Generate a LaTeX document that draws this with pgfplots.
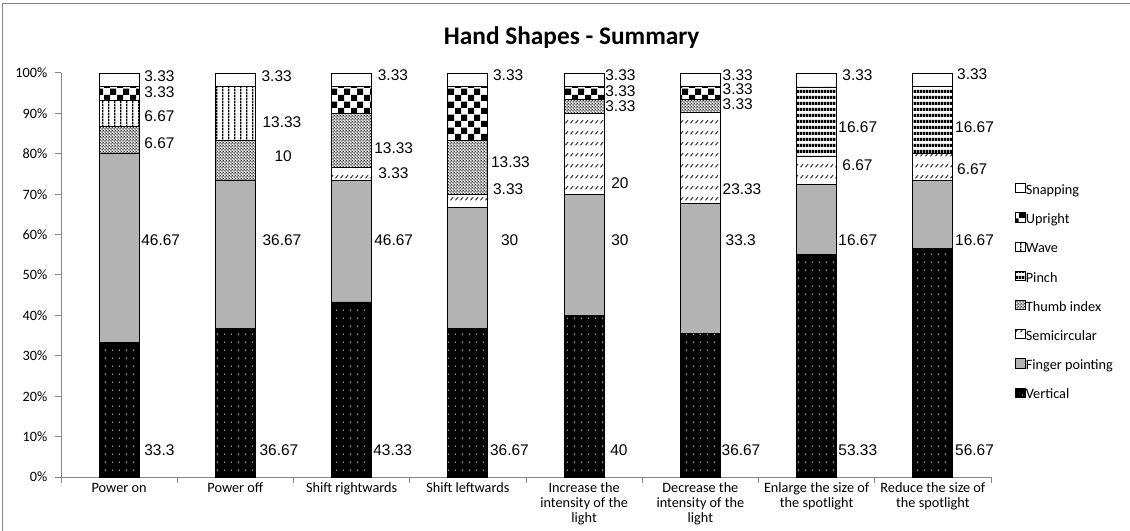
\documentclass[border=0pt]{standalone}
\usepackage{pgfplots}
\pgfplotsset{compat=1.18}
\usepackage{pgfplotstable}
\usetikzlibrary{patterns.meta}
\usepackage{fontspec}
\setmainfont{Carlito}
\newfontfamily\arialfont{Liberation Sans}

\definecolor{axisgray}{RGB}{134,134,134}
\definecolor{fingergray}{RGB}{179,179,179}

% fill patterns for the hand shapes
\tikzdeclarepattern{name=dotgrid, type=uncolored,
  bounding box={(0pt,0pt) and (5.5pt,6.2pt)}, tile size={(5.5pt,6.2pt)},
  code={\fill (2.75pt,3.1pt) circle (0.5pt);}}
\tikzdeclarepattern{name=bigchecker, type=uncolored,
  bounding box={(0pt,0pt) and (9.8pt,9.8pt)}, tile size={(9.8pt,9.8pt)},
  code={\fill (0pt,0pt) rectangle (4.9pt,4.9pt); \fill (4.9pt,4.9pt) rectangle (9.8pt,9.8pt);}}
\tikzdeclarepattern{name=hstripes, type=uncolored,
  bounding box={(0pt,0pt) and (2pt,4.5pt)}, tile size={(2pt,4.5pt)},
  code={\fill (0pt,0pt) rectangle (2pt,2.6pt);}}
\tikzdeclarepattern{name=vstripes, type=uncolored,
  bounding box={(0pt,0pt) and (4.5pt,2pt)}, tile size={(4.5pt,2pt)},
  code={\fill (0pt,0pt) rectangle (1.1pt,2pt);}}
\tikzdeclarepattern{name=finemesh, type=uncolored,
  bounding box={(0pt,0pt) and (2.4pt,2.4pt)}, tile size={(2.4pt,2.4pt)},
  code={\draw[line width=0.25pt] (0pt,0pt)--(2.4pt,2.4pt) (0pt,2.4pt)--(2.4pt,0pt);}}
\tikzdeclarepattern{name=slashes, type=uncolored,
  bounding box={(0pt,0pt) and (3.4pt,8.25pt)}, tile size={(3.4pt,8.25pt)},
  code={\draw[line width=0.6pt] (0.4pt,0.6pt)--(2.6pt,3.2pt);}}

% counts per gesture (percent of participants)
% V vertical, F finger pointing, S semicircular, T thumb index,
% P pinch, W wave, U upright, N snapping
\pgfplotstableread{
idx V     F     S     T     P     W     U     N
0   33.3  46.67 0     6.67  0     6.67  3.33  3.33
1   36.67 36.67 0     10    0     13.33 0     3.33
2   43.33 30    3.33  13.33 0     0     6.67  3.33
3   36.67 30    3.33  13.33 0     0     13.33 3.33
4   40    30    20    3.33  0     0     3.33  3.33
5   36.67 33.3  23.33 3.33  0     0     3.33  3.33
6   53.33 16.67 6.67  0     16.67 0     0     3.33
7   56.67 16.67 6.67  0     16.67 0     0     3.33
}\handdata
\pgfplotstablecreatecol[expr={\thisrow{V}+\thisrow{F}+\thisrow{S}+\thisrow{T}+\thisrow{P}+\thisrow{W}+\thisrow{U}+\thisrow{N}}]{Tot}\handdata

\newcommand{\vlab}[4]{\node[anchor=west, inner sep=0pt, font=\arialfont\fontsize{11.6}{13}\selectfont]
  at (axis cs:#1,#2) [xshift=#3*0.75pt] {#4};}

\begin{document}
\begin{tikzpicture}
\useasboundingbox (-45.75pt,-40.5pt) rectangle (801.75pt,357.75pt);
\draw[axisgray, line width=0.75pt] (-43.5pt,-50pt) -- (-43.5pt,354.75pt) -- (810pt,354.75pt);
\node[font=\bfseries\fontsize{19}{22}\selectfont] at (383pt,329.25pt) {Hand Shapes - Summary};
\begin{axis}[
  at={(0pt,0pt)}, anchor=south west,
  scale only axis, width=697.5pt, height=303pt,
  ybar stacked, bar width=30pt,
  xmin=-0.5, xmax=7.5, ymin=0, ymax=100,
  axis x line=bottom, axis y line=left,
  axis line style={draw=axisgray, line width=0.75pt, -},
  tick align=outside, major tick length=4.5pt,
  tick style={draw=axisgray, line width=0.75pt},
  ytick={0,10,...,100},
  yticklabels={0\%,10\%,20\%,30\%,40\%,50\%,60\%,70\%,80\%,90\%,100\%},
  yticklabel style={xshift=-2.25pt},
  xtick={-0.5,0.5,1.5,2.5,3.5,4.5,5.5,6.5,7.5},
  xticklabels={{},{},{},{},{},{},{},{},{}},
  extra x ticks={0,1,2,3,4,5,6,7},
  extra x tick labels={Power on, Power off, Shift rightwards, Shift leftwards,
    {Increase the\\intensity of the\\light}, {Decrease the\\intensity of the\\light},
    {Enlarge the size of\\the spotlight}, {Reduce the size of\\the spotlight}},
  extra x tick style={major tick length=0pt, tick style={draw=none},
    tick label style={yshift=-1pt, font=\fontsize{10.7}{11.2}\selectfont}},
  tick label style={font=\fontsize{10.7}{12.5}\selectfont},
  x tick label style={align=center},
  clip=false,
  every axis plot/.append style={draw=black, line width=0.6pt},
  legend style={at={(1.026,0.728)}, anchor=north west, draw=none, fill=none,
    inner sep=0pt, row sep=10.4pt, font=\fontsize{10.7}{12.5}\selectfont,
    nodes={inner sep=0.5pt, text height=8pt, text depth=2.5pt},
    /tikz/every even column/.append style={column sep=1.5pt}},
  legend cell align=left,
  legend image code/.code={\draw[#1, line width=0.5pt] (0pt,-1.4pt) rectangle (6.8pt,5.4pt);},
  reverse legend,
]
\addplot[fill=black, postaction={pattern=dotgrid, pattern color=white}]
  table[x=idx, y expr=\thisrow{V}*100/\thisrow{Tot}] {\handdata};
\addplot[fill=fingergray]
  table[x=idx, y expr=\thisrow{F}*100/\thisrow{Tot}] {\handdata};
\addplot[fill=white, postaction={pattern=slashes, pattern color=black}]
  table[x=idx, y expr=\thisrow{S}*100/\thisrow{Tot}] {\handdata};
\addplot[fill=white, postaction={pattern=finemesh, pattern color=black}]
  table[x=idx, y expr=\thisrow{T}*100/\thisrow{Tot}] {\handdata};
\addplot[fill=white, postaction={pattern=hstripes, pattern color=black}]
  table[x=idx, y expr=\thisrow{P}*100/\thisrow{Tot}] {\handdata};
\addplot[fill=white, postaction={pattern=vstripes, pattern color=black}]
  table[x=idx, y expr=\thisrow{W}*100/\thisrow{Tot}] {\handdata};
\addplot[fill=white, postaction={pattern=bigchecker, pattern color=black}]
  table[x=idx, y expr=\thisrow{U}*100/\thisrow{Tot}] {\handdata};
\addplot[fill=white]
  table[x=idx, y expr=\thisrow{N}*100/\thisrow{Tot}] {\handdata};
\legend{Vertical, Finger pointing, Semicircular, Thumb index, Pinch, Wave, Upright, Snapping}

% value labels beside the bars
\vlab{0}{99.3}{25}{3.33}
\vlab{0}{95.2}{25}{3.33}
\vlab{0}{89.4}{25}{6.67}
\vlab{0}{82.6}{25}{6.67}
\vlab{0}{58.5}{22}{46.67}
\vlab{0}{6.7}{25}{33.3}
\vlab{1}{99.3}{26}{3.33}
\vlab{1}{87.8}{27}{13.33}
\vlab{1}{79.5}{39}{10}
\vlab{1}{58.5}{27}{36.67}
\vlab{1}{6.7}{24}{36.67}
\vlab{2}{99.4}{26}{3.33}
\vlab{2}{81.3}{22.5}{13.33}
\vlab{2}{75.1}{26.5}{3.33}
\vlab{2}{58.5}{22.5}{46.67}
\vlab{2}{6.7}{21.5}{43.33}
\vlab{3}{99.4}{25}{3.33}
\vlab{3}{77.9}{23}{13.33}
\vlab{3}{71.3}{25}{3.33}
\vlab{3}{58.5}{33}{30}
\vlab{3}{6.7}{22}{36.67}
\vlab{4}{99.4}{21}{3.33}
\vlab{4}{95.4}{21}{3.33}
\vlab{4}{91.9}{21}{3.33}
\vlab{4}{72.7}{27}{20}
\vlab{4}{58.5}{27}{30}
\vlab{4}{6.7}{26}{40}
\vlab{5}{99.5}{22}{3.33}
\vlab{5}{95.9}{22}{3.33}
\vlab{5}{92.3}{22}{3.33}
\vlab{5}{71.3}{22}{23.33}
\vlab{5}{58.5}{25}{33.3}
\vlab{5}{6.7}{21}{36.67}
\vlab{6}{99.4}{25.5}{3.33}
\vlab{6}{86.6}{21.5}{16.67}
\vlab{6}{77.2}{25.5}{6.67}
\vlab{6}{58.5}{21.5}{16.67}
\vlab{6}{6.7}{21.5}{53.33}
\vlab{7}{99.6}{24}{3.33}
\vlab{7}{86.5}{22}{16.67}
\vlab{7}{76.2}{24}{6.67}
\vlab{7}{58.5}{22}{16.67}
\vlab{7}{6.7}{22}{56.67}
\end{axis}
\end{tikzpicture}
\end{document}
